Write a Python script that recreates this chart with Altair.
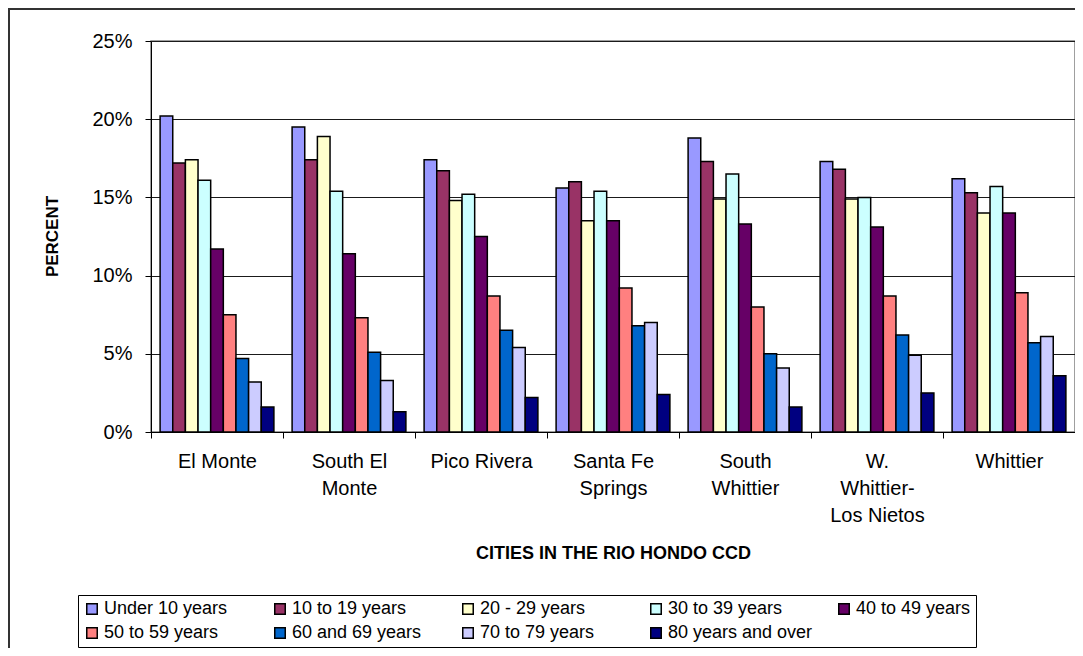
import altair as alt
import pandas as pd

cities = ["El Monte", "South El Monte", "Pico Rivera", "Santa Fe Springs",
          "South Whittier", "W. Whittier-Los Nietos", "Whittier"]
city_labels = ["El Monte", "South El|Monte", "Pico Rivera", "Santa Fe|Springs",
               "South|Whittier", "W.|Whittier-|Los Nietos", "Whittier"]
ages = ["Under 10 years", "10 to 19 years", "20 - 29 years", "30 to 39 years",
        "40 to 49 years", "50 to 59 years", "60 and 69 years", "70 to 79 years",
        "80 years and over"]
colors = ["#9999FF", "#993366", "#FFFFCC", "#CCFFFF", "#660066",
          "#FF8080", "#0066CC", "#CCCCFF", "#000080"]

el_monte = [20.2, 17.2, 17.4, 16.1, 11.7, 7.5, 4.7, 3.2, 1.6]
south_el_monte = [19.5, 17.4, 18.9, 15.4, 11.4, 7.3, 5.1, 3.3, 1.3]
pico_rivera = [17.4, 16.7, 14.8, 15.2, 12.5, 8.7, 6.5, 5.4, 2.2]
santa_fe_springs = [15.6, 16.0, 13.5, 15.4, 13.5, 9.2, 6.8, 7.0, 2.4]
south_whittier = [18.8, 17.3, 14.9, 16.5, 13.3, 8.0, 5.0, 4.1, 1.6]
w_whittier = [17.3, 16.8, 14.9, 15.0, 13.1, 8.7, 6.2, 4.9, 2.5]
whittier = [16.2, 15.3, 14.0, 15.7, 14.0, 8.9, 5.7, 6.1, 3.6]

series = [el_monte, south_el_monte, pico_rivera, santa_fe_springs,
          south_whittier, w_whittier, whittier]

rows = []
for lab, vals in zip(city_labels, series):
    for age, v in zip(ages, vals):
        rows.append({"city": lab, "age": age, "value": v})
df = pd.DataFrame(rows)

bars = alt.Chart(df).mark_bar(stroke="black", strokeWidth=1.5).encode(
    x=alt.X("city:N", sort=city_labels,
            scale=alt.Scale(paddingInner=0, paddingOuter=0),
            axis=alt.Axis(title="CITIES IN THE RIO HONDO CCD", labelAngle=0,
                          tickBand="extent", tickSize=6, tickColor="black",
                          domainColor="black", labelPadding=13,
                          labelExpr="split(datum.label, '|')",
                          labelLineHeight=27, labelFontSize=20,
                          labelColor="black", titleFontSize=18,
                          titleFontWeight="bold", titleY=121,
                          titleBaseline="middle", titleColor="black")),
    xOffset=alt.XOffset("age:N", sort=ages,
                        scale=alt.Scale(paddingInner=0, paddingOuter=0.72)),
    y=alt.Y("value:Q", scale=alt.Scale(domain=[0, 25]),
            axis=alt.Axis(title="PERCENT", values=[0, 5, 10, 15, 20, 25],
                          labelExpr="datum.value + '%'", tickSize=6,
                          tickColor="black", domainColor="black",
                          gridColor="#1a1a1a", gridWidth=1,
                          labelPadding=13, labelFontSize=20,
                          labelColor="black", titleFontSize=17,
                          titleFontWeight="bold", titleAngle=270,
                          titleX=-99, titleY=195, titleAlign="center",
                          titleBaseline="middle", titleColor="black")),
    color=alt.Color("age:N", sort=ages,
                    scale=alt.Scale(domain=ages, range=colors),
                    legend=alt.Legend(title=None, orient="none",
                                      legendX=-73, legendY=554,
                                      direction="horizontal", columns=5,
                                      gridAlign="all", columnPadding=22,
                                      rowPadding=6, padding=5,
                                      symbolType="square", symbolSize=110,
                                      symbolStrokeColor="black",
                                      symbolStrokeWidth=1.5, labelOffset=3,
                                      labelFontSize=18, labelColor="black",
                                      labelLimit=300,
                                      strokeColor="black")),
)

frame_df = pd.DataFrame({"k": [0]})
frame = alt.Chart(frame_df).mark_rect(filled=False, stroke="#333333",
                                      strokeWidth=2).encode(
    x=alt.value(-142), x2=alt.value(1000), y=alt.value(-32), y2=alt.value(900)
)

chart = alt.layer(frame, bars).properties(
    width=924, height=391,
    padding={"left": 143, "top": 33, "right": 0, "bottom": 216},
    autosize="none",
).configure(font="Liberation Sans").configure_view(
    stroke="#808080", strokeWidth=1.5
).configure_axisX(grid=False)

chart.save("out.html", embed_options={"renderer": "svg", "actions": False})
